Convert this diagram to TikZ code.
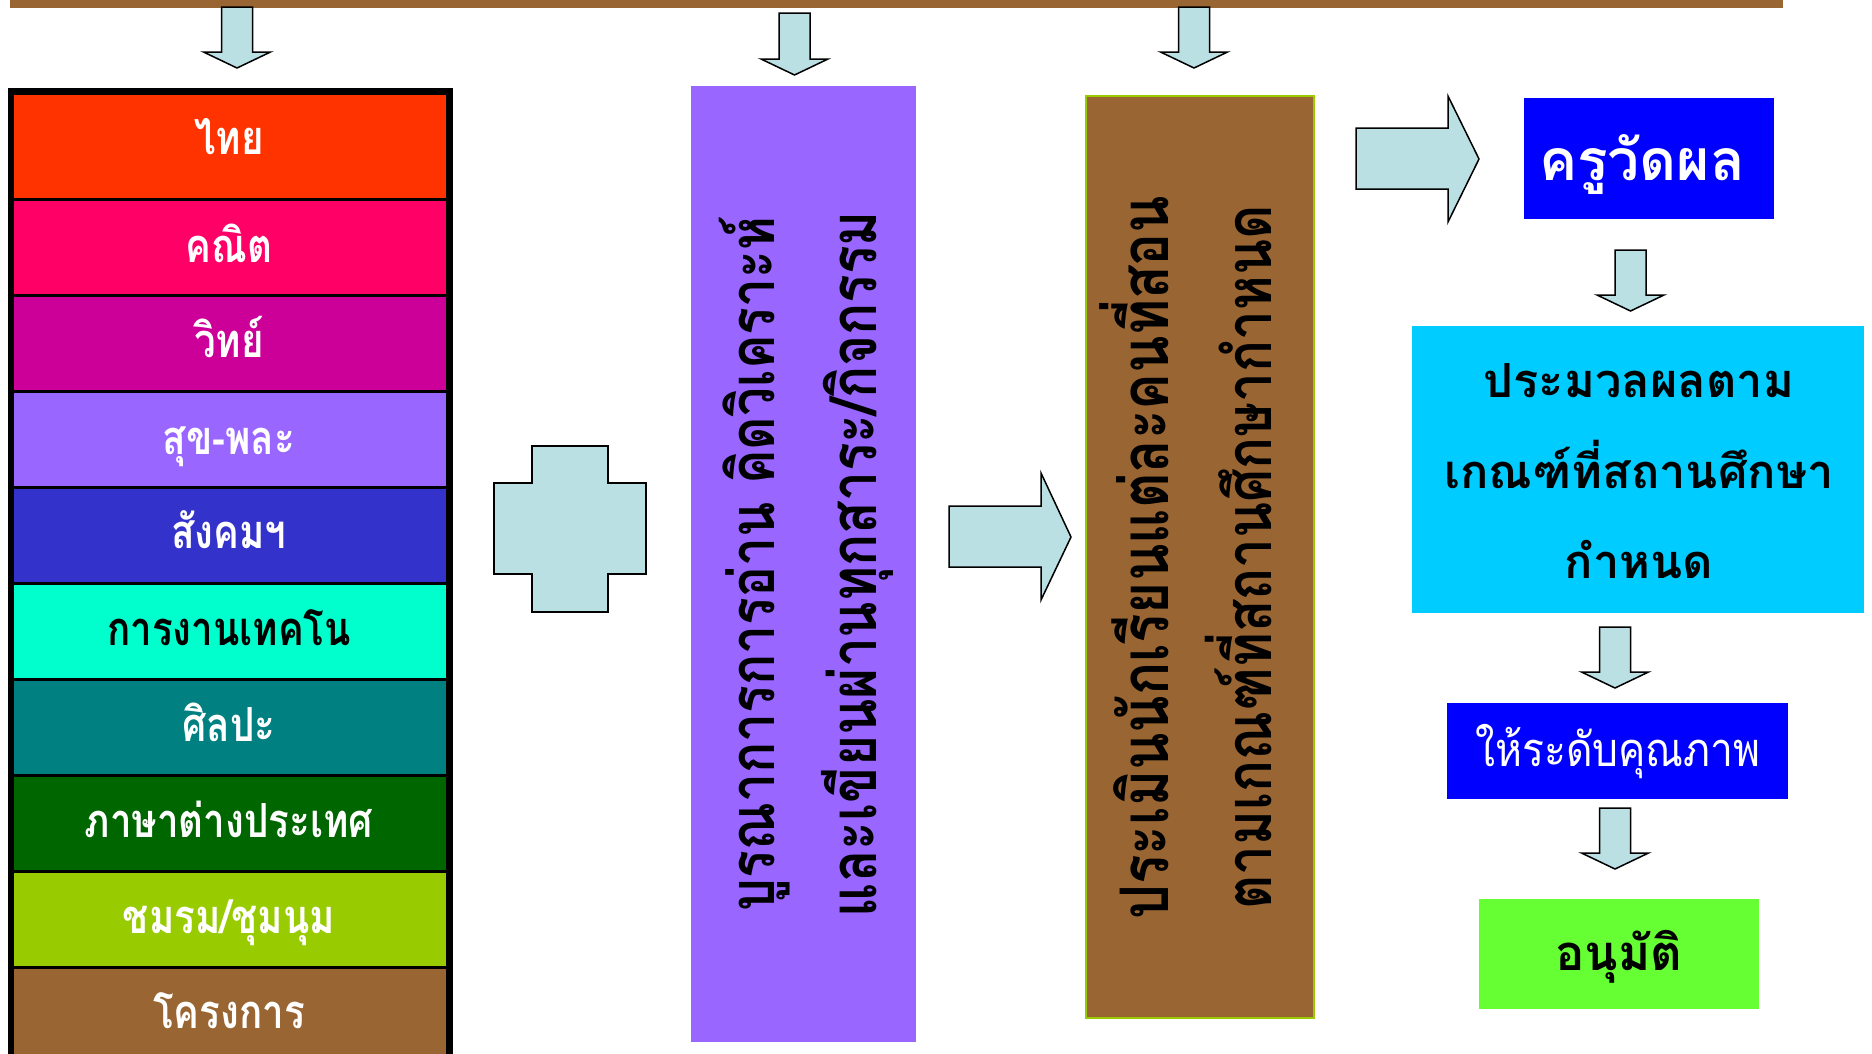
\documentclass[tikz,border=0pt]{standalone}
\usepackage{fontspec}
\newfontfamily\thaifont[Script=Thai]{Loma}
\newfontfamily\thainarrow[Script=Thai,FakeStretch=0.82]{Loma}
\newfontfamily\thaiq[Script=Thai,FakeStretch=0.87]{Loma}
\definecolor{barbrown}{HTML}{996633}
\definecolor{arrowfill}{HTML}{BBE0E3}
\definecolor{cA}{HTML}{FF3300}
\definecolor{cB}{HTML}{FF0066}
\definecolor{cC}{HTML}{CC0099}
\definecolor{cD}{HTML}{9966FF}
\definecolor{cE}{HTML}{3333CC}
\definecolor{cF}{HTML}{00FFCC}
\definecolor{cG}{HTML}{008080}
\definecolor{cH}{HTML}{006600}
\definecolor{cI}{HTML}{99CC00}
\definecolor{cJ}{HTML}{996633}
\definecolor{boxblue}{HTML}{0000FF}
\definecolor{boxcyan}{HTML}{00CCFF}
\definecolor{boxgreen}{HTML}{66FF33}
\definecolor{edgegreen}{HTML}{99CC00}
\newcommand\DnArrow[4]{%
  \draw[blockarrow] ({#1-15.5},{#2}) -- ({#1+15.5},{#2}) -- ({#1+15.5},{#3}) -- ({#1+33.5},{#3})
    -- ({#1},{#4}) -- ({#1-33.5},{#3}) -- ({#1-15.5},{#3}) -- cycle;}
\tikzset{
  blockarrow/.style={fill=arrowfill,draw=black,line width=1.5pt,line join=miter},
  celltext/.style={anchor=base,font=\thainarrow\bfseries\fontsize{47}{56}\selectfont,text=white,inner sep=0pt},
  boxtext/.style={anchor=base,font=\thaifont\bfseries\fontsize{47}{56}\selectfont,text=black,inner sep=0pt},
  rottext/.style={anchor=base,rotate=90,font=\thainarrow\bfseries\fontsize{64}{72}\selectfont,text=black,inner sep=0pt},
}
\begin{document}
\begin{tikzpicture}[x=1pt,y=-1pt]
\useasboundingbox (0,0) rectangle (1872,1053);
\fill[white] (0,0) rectangle (1872,1053);
% top bar
\fill[barbrown] (10,0) rectangle (1783,7.5);
% down arrows from bar
\DnArrow{237}{7}{52}{68}
\DnArrow{794.5}{13}{59}{75}
\DnArrow{1194}{7}{52}{68}
% left column frame
\fill[black] (8,88) rectangle (453,1060);
\fill[cA] (14,95) rectangle (446,198);
\fill[cB] (14,201) rectangle (446,294);
\fill[cC] (14,297) rectangle (446,390);
\fill[cD] (14,393) rectangle (446,486);
\fill[cE] (14,489) rectangle (446,582);
\fill[cF] (14,585) rectangle (446,678);
\fill[cG] (14,681) rectangle (446,774);
\fill[cH] (14,777) rectangle (446,870);
\fill[cI] (14,873) rectangle (446,966);
\fill[cJ] (14,969) rectangle (446,1060);
\node[celltext] (t1) at (229,154) {ไทย};
\node[celltext] (t2) at (229,262) {คณิต};
\node[celltext] (t3) at (229,357) {วิทย์};
\node[celltext] (t4) at (229,454) {สุข-พละ};
\node[celltext] (t5) at (229,548) {สังคมฯ};
\node[celltext,text=black] (t6) at (229,645) {การงานเทคโน};
\node[celltext] (t7) at (229,741) {ศิลปะ};
\node[celltext] (t8) at (229,837) {ภาษาต่างประเทศ};
\node[celltext] (t9) at (229,933) {ชมรม/ชุมนุม};
\node[celltext] (t10) at (229,1028) {โครงการ};
% plus shape
\draw[blockarrow] (532,446) -- (608,446) -- (608,483) -- (646,483) -- (646,574) -- (608,574)
  -- (608,612) -- (532,612) -- (532,574) -- (494,574) -- (494,483) -- (532,483) -- cycle;
% purple box
\fill[cD] (691,86) rectangle (916,1042);
\node[rottext,font=\thainarrow\bfseries\fontsize{63}{72}\selectfont] (p1) at (774,564) {บูรณาการการอ่าน คิดวิเคราะห์};
\node[rottext,font=\thainarrow\bfseries\fontsize{65}{72}\selectfont] (p2) at (876,564) {และเขียนผ่านทุกสาระ/กิจกรรม};
% right arrow 1
\draw[blockarrow] (949,506) -- (1041,506) -- (1041,473) -- (1071,537) -- (1041,600) -- (1041,567) -- (949,567) -- cycle;
% brown box
\draw[fill=barbrown,draw=edgegreen,line width=2pt] (1086,96) rectangle (1314,1018);
\node[rottext,font=\thainarrow\bfseries\fontsize{67}{72}\selectfont] (b1) at (1168,557.5) {ประเมินนักเรียนแต่ละคนที่สอน};
\node[rottext,font=\thainarrow\bfseries\fontsize{64.5}{72}\selectfont] (b2) at (1271,557.5) {ตามเกณฑ์ที่สถานศึกษากำหนด};
% right arrow 2
\draw[blockarrow] (1356,128) -- (1448,128) -- (1448,96) -- (1479,159) -- (1448,222) -- (1448,189) -- (1356,189) -- cycle;
% teacher box
\fill[boxblue] (1524,98) rectangle (1774,219);
\node[boxtext,text=white,font=\thaifont\bfseries\fontsize{57}{66}\selectfont] (k) at (1642,180) {ครูวัดผล};
\DnArrow{1630.5}{250}{295}{311}
% cyan box
\fill[boxcyan] (1412,326) rectangle (1864,613);
\node[boxtext] (c1) at (1639,397) {ประมวลผลตาม};
\node[boxtext] (c2) at (1639,488) {เกณฑ์ที่สถานศึกษา};
\node[boxtext] (c3) at (1639,578) {กำหนด};
\DnArrow{1615}{627}{672}{688}
% quality box
\fill[boxblue] (1447,703) rectangle (1788,799);
\node[boxtext,text=white,font=\thaiq\fontsize{47}{56}\selectfont] (q) at (1618,766) {ให้ระดับคุณภาพ};
\DnArrow{1615}{808}{853}{869}
% approve box
\fill[boxgreen] (1479,899) rectangle (1759,1009);
\node[boxtext,font=\thaifont\bfseries\fontsize{49}{58}\selectfont] (a) at (1619,970) {อนุมัติ};
\end{tikzpicture}
\end{document}
